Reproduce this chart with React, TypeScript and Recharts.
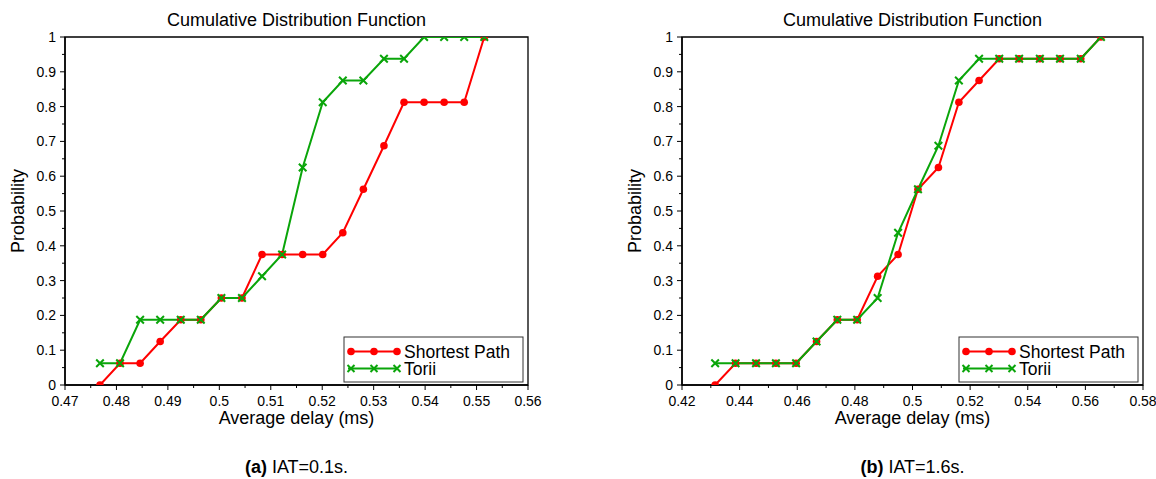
import { LineChart, Line, XAxis, YAxis, ReferenceArea } from "recharts";

// (a) IAT=0.1s
const delayA = [
  0.4768, 0.4807, 0.4846, 0.4885, 0.4925, 0.4964, 0.5004, 0.5044, 0.5083, 0.5122,
  0.5162, 0.5201, 0.524, 0.528, 0.532, 0.5359, 0.5398, 0.5437, 0.5476, 0.5515,
];
const shortestA = [
  0, 0.0625, 0.0625, 0.125, 0.1875, 0.1875, 0.25, 0.25, 0.375, 0.375,
  0.375, 0.375, 0.4375, 0.5625, 0.6875, 0.8125, 0.8125, 0.8125, 0.8125, 1,
];
const toriiA = [
  0.0625, 0.0625, 0.1875, 0.1875, 0.1875, 0.1875, 0.25, 0.25, 0.3125, 0.375,
  0.625, 0.8125, 0.875, 0.875, 0.9375, 0.9375, 1, 1, 1, 1,
];

// (b) IAT=1.6s
const delayB = [
  0.4315, 0.4386, 0.4457, 0.4526, 0.4596, 0.4667, 0.4739, 0.4808, 0.4879, 0.495,
  0.5019, 0.509, 0.5161, 0.5231, 0.5301, 0.537, 0.5442, 0.5512, 0.5584, 0.5654,
];
const shortestB = [
  0, 0.0625, 0.0625, 0.0625, 0.0625, 0.125, 0.1875, 0.1875, 0.3125, 0.375,
  0.5625, 0.625, 0.8125, 0.875, 0.9375, 0.9375, 0.9375, 0.9375, 0.9375, 1,
];
const toriiB = [
  0.0625, 0.0625, 0.0625, 0.0625, 0.0625, 0.125, 0.1875, 0.1875, 0.25, 0.4375,
  0.5625, 0.6875, 0.875, 0.9375, 0.9375, 0.9375, 0.9375, 0.9375, 0.9375, 1,
];

const xTicksA = [0.47, 0.48, 0.49, 0.5, 0.51, 0.52, 0.53, 0.54, 0.55, 0.56];
const xTicksB = [0.42, 0.44, 0.46, 0.48, 0.5, 0.52, 0.54, 0.56, 0.58];
const yTicks = [0, 0.1, 0.2, 0.3, 0.4, 0.5, 0.6, 0.7, 0.8, 0.9, 1];

const seriesNames = ["Shortest Path", "Torii"];

const RED = "#ff0000";
const GREEN = "#0aa50a";
const FONT = '"Liberation Sans", Arial, Helvetica, sans-serif';

const PANEL_W = 578;
const PANEL_H = 479;
const PLOT_TOP = 37;
const PLOT_BOTTOM = 385;
const Y_AXIS_W = 45;
const X_AXIS_H = 60;

function withMinor(major: number[]) {
  const out: number[] = [];
  major.forEach((v, i) => {
    out.push(v);
    if (i < major.length - 1) out.push(+((v + major[i + 1]) / 2).toFixed(4));
  });
  return out;
}

const fmt = (v: number) => String(+v.toFixed(3));
const isMajor = (v: number, major: number[]) => major.some((m) => Math.abs(m - v) < 1e-6);

const makeXTick = (major: number[]) => (props: any) => {
  const { x, y, payload } = props;
  const big = isMajor(payload.value, major);
  return (
    <g>
      <line x1={x} y1={y} x2={x} y2={y + (big ? 5 : 3)} stroke="#000" strokeWidth={1} />
      {big && (
        <text x={x} y={y + 21} textAnchor="middle" fontSize={14} fontFamily={FONT} fill="#000">
          {fmt(payload.value)}
        </text>
      )}
    </g>
  );
};

const YTick = (props: any) => {
  const { x, y, payload } = props;
  const big = isMajor(payload.value, yTicks);
  return (
    <g>
      <line x1={x} y1={y} x2={x - (big ? 5 : 3)} y2={y} stroke="#000" strokeWidth={1} />
      {big && (
        <text x={x - 9} y={y + 5} textAnchor="end" fontSize={14} fontFamily={FONT} fill="#000">
          {fmt(payload.value)}
        </text>
      )}
    </g>
  );
};

const RedDot = (p: any) => {
  if (p.cx == null || p.cy == null) return <g key={p.index} />;
  return <circle key={p.index} cx={p.cx} cy={p.cy} r={3.8} fill={RED} />;
};

const GreenCross = (p: any) => {
  if (p.cx == null || p.cy == null) return <g key={p.index} />;
  const s = 3.8;
  const { cx, cy } = p;
  return (
    <path
      key={p.index}
      d={`M${cx - s},${cy - s}L${cx + s},${cy + s}M${cx - s},${cy + s}L${cx + s},${cy - s}`}
      stroke={GREEN}
      strokeWidth={2}
      fill="none"
    />
  );
};

function Legend({ right, bottom }: { right: number; bottom: number }) {
  const w = 179;
  const h = 45;
  const x0 = right - w;
  const y0 = bottom - h;
  const rows = [y0 + 14.5, y0 + 31.5];
  const marks = [7, 30, 53];
  return (
    <g>
      <rect x={x0} y={y0} width={w} height={h} fill="#fff" stroke="#333" strokeWidth={1} />
      <line x1={x0 + 4} y1={rows[0]} x2={x0 + 54} y2={rows[0]} stroke={RED} strokeWidth={2} />
      {marks.map((m) => (
        <circle key={m} cx={x0 + m} cy={rows[0]} r={3.8} fill={RED} />
      ))}
      <line x1={x0 + 4} y1={rows[1]} x2={x0 + 54} y2={rows[1]} stroke={GREEN} strokeWidth={2} />
      {marks.map((m) => (
        <path
          key={m}
          d={`M${x0 + m - 3.5},${rows[1] - 3.5}L${x0 + m + 3.5},${rows[1] + 3.5}M${x0 + m - 3.5},${rows[1] + 3.5}L${x0 + m + 3.5},${rows[1] - 3.5}`}
          stroke={GREEN}
          strokeWidth={2}
        />
      ))}
      <text x={x0 + 60} y={rows[0] + 6} fontSize={17.5} fontFamily={FONT} fill="#000">
        {seriesNames[0]}
      </text>
      <text x={x0 + 60} y={rows[1] + 6} fontSize={17.5} fontFamily={FONT} fill="#000">
        {seriesNames[1]}
      </text>
    </g>
  );
}

interface PanelProps {
  left: number;
  plotLeft: number;
  plotRight: number;
  delay: number[];
  shortest: number[];
  torii: number[];
  xTicks: number[];
  tag: string;
  caption: string;
}

function Panel({ left, plotLeft, plotRight, delay, shortest, torii, xTicks, tag, caption }: PanelProps) {
  const rows = delay.map((d, i) => ({ delay: d, shortest: shortest[i], torii: torii[i] }));
  const x0 = xTicks[0];
  const x1 = xTicks[xTicks.length - 1];
  const cx = (plotLeft + plotRight) / 2;
  return (
    <div style={{ position: "absolute", left, top: 0, width: PANEL_W, height: PANEL_H }}>
      <LineChart
        width={PANEL_W}
        height={PANEL_H}
        data={rows}
        margin={{
          top: PLOT_TOP,
          right: PANEL_W - plotRight,
          bottom: PANEL_H - PLOT_BOTTOM - X_AXIS_H,
          left: plotLeft - Y_AXIS_W,
        }}
      >
        <XAxis
          type="number"
          dataKey="delay"
          domain={[x0, x1]}
          ticks={withMinor(xTicks)}
          interval={0}
          tickSize={0}
          tickMargin={0}
          tickLine={false}
          tick={makeXTick(xTicks)}
          axisLine={{ stroke: "#000", strokeWidth: 1.5 }}
          height={X_AXIS_H}
          allowDataOverflow
        />
        <YAxis
          type="number"
          domain={[0, 1]}
          ticks={withMinor(yTicks)}
          interval={0}
          tickSize={0}
          tickMargin={0}
          tickLine={false}
          tick={YTick}
          axisLine={{ stroke: "#000", strokeWidth: 1.5 }}
          width={Y_AXIS_W}
          allowDataOverflow
        />
        <ReferenceArea x1={x0} x2={x1} y1={0} y2={1} fill="none" stroke="#000" strokeWidth={1.3} />
        <Line
          type="linear"
          dataKey="shortest"
          stroke={RED}
          strokeWidth={2}
          dot={RedDot}
          activeDot={false}
          isAnimationActive={false}
        />
        <Line
          type="linear"
          dataKey="torii"
          stroke={GREEN}
          strokeWidth={2}
          dot={GreenCross}
          activeDot={false}
          isAnimationActive={false}
        />
      </LineChart>
      <svg
        width={PANEL_W}
        height={PANEL_H}
        style={{ position: "absolute", left: 0, top: 0, pointerEvents: "none" }}
      >
        <text x={cx} y={25.5} textAnchor="middle" fontSize={18} fontFamily={FONT} fill="#000">
          Cumulative Distribution Function
        </text>
        <text
          x={plotLeft - 41}
          y={(PLOT_TOP + PLOT_BOTTOM) / 2}
          transform={`rotate(-90 ${plotLeft - 41} ${(PLOT_TOP + PLOT_BOTTOM) / 2})`}
          textAnchor="middle"
          fontSize={18}
          fontFamily={FONT}
          fill="#000"
        >
          Probability
        </text>
        <text x={cx} y={424} textAnchor="middle" fontSize={18} fontFamily={FONT} fill="#000">
          Average delay (ms)
        </text>
        <Legend right={plotRight - 5} bottom={PLOT_BOTTOM - 3} />
        <text x={cx} y={473} textAnchor="middle" fontSize={18} fontFamily={FONT} fill="#000">
          <tspan fontWeight="bold">{tag}</tspan> {caption}
        </text>
      </svg>
    </div>
  );
}

export default function App() {
  return (
    <div style={{ position: "absolute", left: 0, top: 0, width: 1156, height: 479, background: "#fff" }}>
      <Panel
        left={0}
        plotLeft={65}
        plotRight={528}
        delay={delayA}
        shortest={shortestA}
        torii={toriiA}
        xTicks={xTicksA}
        tag="(a)"
        caption="IAT=0.1s."
      />
      <Panel
        left={578}
        plotLeft={104}
        plotRight={565}
        delay={delayB}
        shortest={shortestB}
        torii={toriiB}
        xTicks={xTicksB}
        tag="(b)"
        caption="IAT=1.6s."
      />
    </div>
  );
}
